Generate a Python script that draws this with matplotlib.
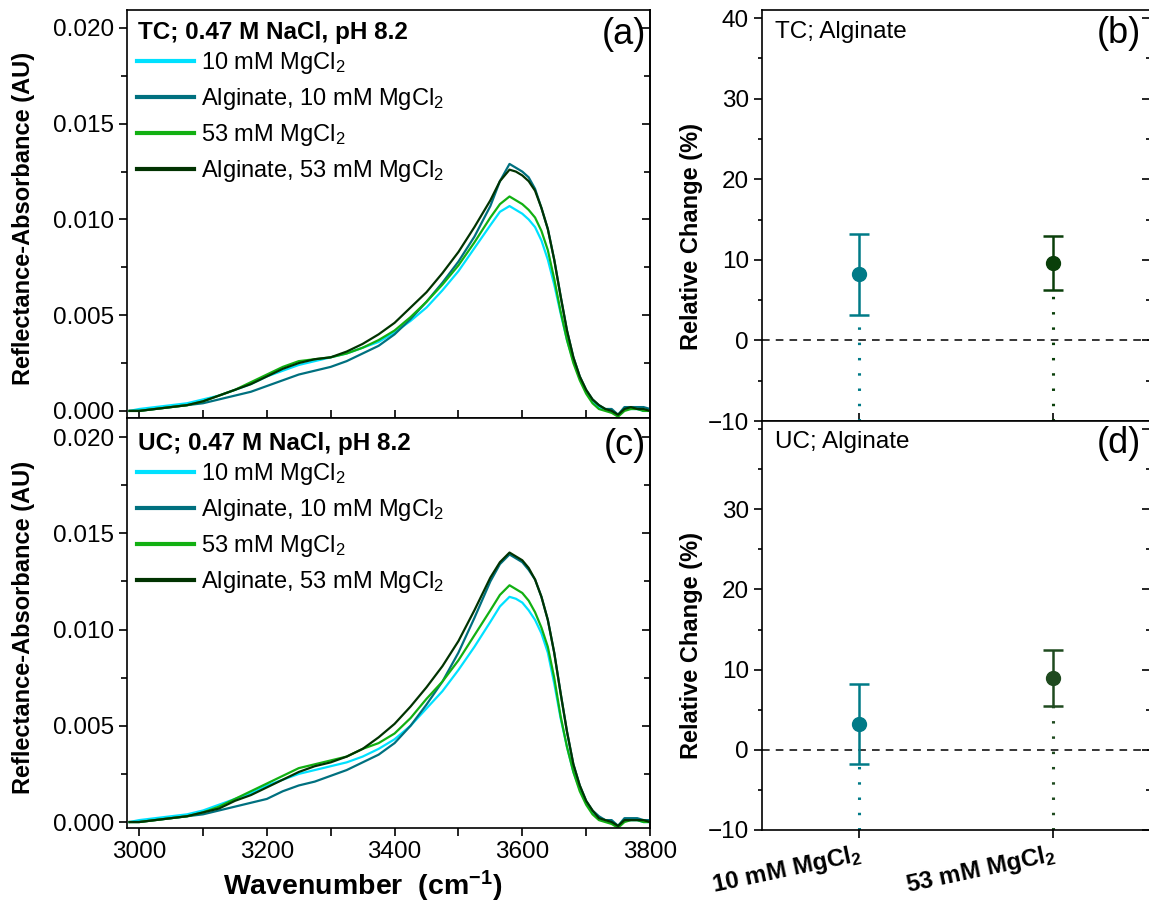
import matplotlib
matplotlib.use("Agg")
import matplotlib.pyplot as plt
from matplotlib.ticker import MultipleLocator

plt.rcParams['font.family'] = ['Liberation Sans', 'DejaVu Sans']
plt.rcParams['mathtext.fontset'] = 'custom'
plt.rcParams['mathtext.rm'] = 'Liberation Sans'
plt.rcParams['mathtext.it'] = 'Liberation Sans'
plt.rcParams['mathtext.bf'] = 'Liberation Sans:bold'

# ---------------- data ----------------
wavenumber = [2985, 3000, 3025, 3050, 3075, 3100, 3125, 3150, 3175, 3200, 3225, 3250, 3275, 3300,
              3325, 3350, 3375, 3400, 3425, 3450, 3475, 3500, 3525, 3550, 3565, 3580, 3590, 3600,
              3610, 3620, 3630, 3640, 3650, 3660, 3670, 3680, 3690, 3700, 3710, 3720, 3730, 3740,
              3750, 3760, 3770, 3780, 3790, 3800]

tc_10 = [0.0000, 0.0001, 0.0002, 0.0003, 0.0004, 0.0006, 0.0008, 0.0011, 0.0014, 0.0018, 0.0021, 0.0024,
         0.0026, 0.0028, 0.0030, 0.0033, 0.0036, 0.0041, 0.0047, 0.0054, 0.0063, 0.0073, 0.0085, 0.0097,
         0.0104, 0.0107, 0.0105, 0.0103, 0.0100, 0.0096, 0.0089, 0.0079, 0.0066, 0.0051, 0.0037, 0.0026,
         0.0017, 0.0010, 0.0005, 0.0002, 0.0001, 0.0000, -0.0002, 0.0001, 0.0001, 0.0001, 0.0000, 0.0000]
tc_alg_10 = [0.0000, 0.0000, 0.0001, 0.0002, 0.0003, 0.0004, 0.0006, 0.0008, 0.0010, 0.0013, 0.0016, 0.0019,
             0.0021, 0.0023, 0.0026, 0.0030, 0.0034, 0.0040, 0.0048, 0.0057, 0.0067, 0.0078, 0.0091, 0.0107,
             0.0120, 0.0129, 0.0127, 0.0125, 0.0122, 0.0116, 0.0106, 0.0095, 0.0079, 0.0060, 0.0042, 0.0028,
             0.0018, 0.0011, 0.0006, 0.0003, 0.0001, 0.0001, -0.0002, 0.0002, 0.0002, 0.0002, 0.0002, 0.0001]
tc_53 = [0.0000, 0.0000, 0.0001, 0.0002, 0.0003, 0.0005, 0.0008, 0.0011, 0.0015, 0.0019, 0.0023, 0.0026,
         0.0027, 0.0028, 0.0030, 0.0033, 0.0037, 0.0042, 0.0049, 0.0057, 0.0066, 0.0076, 0.0088, 0.0101,
         0.0108, 0.0112, 0.0110, 0.0108, 0.0105, 0.0101, 0.0094, 0.0084, 0.0069, 0.0052, 0.0037, 0.0025,
         0.0016, 0.0009, 0.0004, 0.0001, 0.0000, -0.0001, -0.0003, 0.0000, 0.0001, 0.0001, 0.0000, 0.0000]
tc_alg_53 = [0.0000, 0.0000, 0.0001, 0.0002, 0.0003, 0.0005, 0.0008, 0.0011, 0.0014, 0.0018, 0.0022, 0.0025,
             0.0027, 0.0028, 0.0031, 0.0035, 0.0040, 0.0046, 0.0054, 0.0062, 0.0072, 0.0083, 0.0096, 0.0110,
             0.0120, 0.0126, 0.0125, 0.0123, 0.0120, 0.0115, 0.0106, 0.0095, 0.0079, 0.0060, 0.0042, 0.0028,
             0.0018, 0.0011, 0.0006, 0.0003, 0.0001, 0.0000, -0.0002, 0.0001, 0.0002, 0.0001, 0.0001, 0.0000]

uc_10 = [0.0000, 0.0001, 0.0002, 0.0003, 0.0004, 0.0006, 0.0009, 0.0012, 0.0015, 0.0019, 0.0022, 0.0025,
         0.0027, 0.0029, 0.0031, 0.0034, 0.0038, 0.0043, 0.0050, 0.0059, 0.0068, 0.0079, 0.0091, 0.0104,
         0.0112, 0.0117, 0.0116, 0.0114, 0.0110, 0.0105, 0.0098, 0.0088, 0.0072, 0.0054, 0.0039, 0.0026,
         0.0017, 0.0010, 0.0005, 0.0002, 0.0001, 0.0000, -0.0002, 0.0001, 0.0001, 0.0001, 0.0000, 0.0000]
uc_alg_10 = [0.0000, 0.0000, 0.0001, 0.0002, 0.0003, 0.0004, 0.0006, 0.0008, 0.0010, 0.0012, 0.0016, 0.0019,
             0.0021, 0.0024, 0.0027, 0.0031, 0.0035, 0.0041, 0.0050, 0.0061, 0.0073, 0.0088, 0.0106, 0.0125,
             0.0134, 0.0139, 0.0137, 0.0135, 0.0131, 0.0126, 0.0117, 0.0105, 0.0088, 0.0067, 0.0047, 0.0030,
             0.0019, 0.0011, 0.0006, 0.0003, 0.0001, 0.0001, -0.0002, 0.0002, 0.0002, 0.0002, 0.0001, 0.0001]
uc_53 = [0.0000, 0.0000, 0.0001, 0.0002, 0.0003, 0.0005, 0.0008, 0.0012, 0.0016, 0.0020, 0.0024, 0.0028,
         0.0030, 0.0032, 0.0034, 0.0038, 0.0041, 0.0046, 0.0054, 0.0064, 0.0073, 0.0084, 0.0097, 0.0110,
         0.0118, 0.0123, 0.0121, 0.0119, 0.0115, 0.0109, 0.0101, 0.0091, 0.0075, 0.0055, 0.0039, 0.0026,
         0.0016, 0.0009, 0.0004, 0.0001, 0.0000, -0.0001, -0.0003, 0.0000, 0.0001, 0.0001, 0.0000, 0.0000]
uc_alg_53 = [0.0000, 0.0000, 0.0001, 0.0002, 0.0003, 0.0005, 0.0007, 0.0011, 0.0014, 0.0018, 0.0022, 0.0026,
             0.0029, 0.0031, 0.0034, 0.0038, 0.0044, 0.0051, 0.0060, 0.0070, 0.0081, 0.0094, 0.0110, 0.0127,
             0.0135, 0.0140, 0.0138, 0.0136, 0.0132, 0.0126, 0.0117, 0.0105, 0.0088, 0.0067, 0.0047, 0.0030,
             0.0019, 0.0011, 0.0006, 0.0002, 0.0001, 0.0000, -0.0002, 0.0001, 0.0001, 0.0001, 0.0001, 0.0000]

series_labels = [r'10 mM MgCl$_2$', r'Alginate, 10 mM MgCl$_2$', r'53 mM MgCl$_2$', r'Alginate, 53 mM MgCl$_2$']
series_colors = ['#00E1FF', '#00707F', '#12B012', '#013301']

categories = [r'10 mM MgCl$_\mathbf{2}$', r'53 mM MgCl$_\mathbf{2}$']
cat_pos = [1, 2]
tc_change = [8.2, 9.6]
tc_err = [5.0, 3.4]
uc_change = [3.2, 9.0]
uc_err = [5.0, 3.5]
cat_colors = ['#007A87', '#0A3F0A']
cat_colors_uc = ['#007A87', '#1F4A1F']

# ---------------- figure ----------------
W, H = 1149, 909
fig = plt.figure(figsize=(W / 100, H / 100), dpi=100)

def fx(px):
    return px / W

def fy(py):
    return 1 - py / H

ax_a = fig.add_axes([fx(127), fy(418), fx(650 - 127), (418 - 10) / H])
ax_c = fig.add_axes([fx(127), fy(828), fx(650 - 127), (828 - 418) / H])
ax_b = fig.add_axes([fx(762), fy(421), fx(1150 - 762), (421 - 10) / H])
ax_d = fig.add_axes([fx(762), fy(830), fx(1150 - 762), (830 - 421) / H])

FS = 17.5

def style_spec(ax, bottom_dir):
    for s in ax.spines.values():
        s.set_linewidth(1.2)
    ax.set_xlim(2981, 3800)
    ax.xaxis.set_major_locator(MultipleLocator(200))
    ax.xaxis.set_minor_locator(MultipleLocator(100))
    ax.yaxis.set_major_locator(MultipleLocator(0.005))
    ax.yaxis.set_minor_locator(MultipleLocator(0.0025))
    ax.tick_params(axis='y', which='both', direction='out', left=True, right=False, labelsize=FS, width=1.2)
    ax.tick_params(axis='y', which='major', length=6)
    ax.tick_params(axis='y', which='minor', length=4)
    ax.tick_params(axis='x', which='both', direction=bottom_dir, length=6, width=1.2, labelsize=FS, top=False)
    ax.yaxis.set_major_formatter(plt.FuncFormatter(lambda v, p: f'{v:.3f}'))
    sec = ax.secondary_yaxis('right')
    sec.yaxis.set_major_locator(MultipleLocator(0.005))
    sec.yaxis.set_minor_locator(MultipleLocator(0.0025))
    sec.tick_params(axis='y', which='both', direction='in', labelright=False, width=1.2)
    sec.tick_params(axis='y', which='major', length=6)
    sec.tick_params(axis='y', which='minor', length=4)
    sec.spines['right'].set_linewidth(1.2)
    ax.set_ylabel('Reflectance-Absorbance (AU)', fontsize=17, fontweight='bold')
    ax.yaxis.set_label_coords(-0.176, 0.49)

def draw_spec(ax, data, title, panel, ylim, title_y):
    for vals, lab, col in zip(data, series_labels, series_colors):
        ax.plot(wavenumber, vals, color=col, lw=1.6, label=lab)
    ax.set_ylim(*ylim)
    ax.text(0.021, title_y, title, transform=ax.transAxes, fontsize=FS, fontweight='bold',
            ha='left', va='center')
    ax.text(0.992, title_y - 0.005, panel, transform=ax.transAxes, fontsize=26,
            ha='right', va='center')
    leg = ax.legend(loc='upper left', bbox_to_anchor=(0.019, title_y - 0.045), frameon=False,
                    fontsize=17, handlelength=2.4, handletextpad=0.3, labelspacing=0.42,
                    borderpad=0, borderaxespad=0)
    for ln in leg.get_lines():
        ln.set_linewidth(3)

draw_spec(ax_a, [tc_10, tc_alg_10, tc_53, tc_alg_53], 'TC; 0.47 M NaCl, pH 8.2', '(a)',
          (-0.00037, 0.02094), 0.946)
draw_spec(ax_c, [uc_10, uc_alg_10, uc_53, uc_alg_53], 'UC; 0.47 M NaCl, pH 8.2', '(c)',
          (-0.00031, 0.02099), 0.939)
style_spec(ax_a, 'in')
style_spec(ax_c, 'out')
ax_a.tick_params(axis='x', labelbottom=False)
ax_c.set_xlabel(r'Wavenumber  (cm$^{\mathbf{-1}}$)', fontsize=20.5, fontweight='bold')
ax_c.xaxis.set_label_coords(0.45, -0.10)

def style_rel(ax, bottom_dir):
    for s in ax.spines.values():
        s.set_linewidth(1.2)
    ax.set_xlim(0.5, 2.5)
    ax.set_ylim(-10, 41)
    ax.set_xticks(cat_pos)
    ax.yaxis.set_major_locator(MultipleLocator(10))
    ax.yaxis.set_minor_locator(MultipleLocator(5))
    ax.tick_params(axis='y', which='both', direction='out', left=True, right=False, labelsize=FS, width=1.2)
    ax.tick_params(axis='y', which='major', length=6)
    ax.tick_params(axis='y', which='minor', length=3)
    ax.tick_params(axis='x', direction=bottom_dir, length=6, width=1.2, top=False)
    sec = ax.secondary_yaxis('right')
    sec.yaxis.set_major_locator(MultipleLocator(10))
    sec.yaxis.set_minor_locator(MultipleLocator(5))
    sec.tick_params(axis='y', which='both', direction='in', labelright=False, width=1.2)
    sec.tick_params(axis='y', which='major', length=6)
    sec.tick_params(axis='y', which='minor', length=3)
    ax.set_ylabel('Relative Change (%)', fontsize=17, fontweight='bold')
    ax.yaxis.set_label_coords(-0.152, 0.45)

def draw_rel(ax, vals, errs, cols, title, panel, title_y):
    ax.axhline(0, color='black', lw=1.1, ls=(0, (5, 4)), zorder=1)
    for x, v, e, c in zip(cat_pos, vals, errs, cols):
        ax.vlines(x, -10, v - e, colors=c, lw=2.2, linestyles=(0, (0.8, 4.2)), zorder=2)
        ax.errorbar([x], [v], yerr=[e], fmt='o', color=c, ms=10, elinewidth=1.8,
                    capsize=7, capthick=1.8, zorder=3)
    ax.text(0.034, title_y, title, transform=ax.transAxes, fontsize=FS, ha='left', va='center')
    ax.text(0.977, title_y - 0.003, panel, transform=ax.transAxes, fontsize=26, ha='right', va='center')

draw_rel(ax_b, tc_change, tc_err, cat_colors, 'TC; Alginate', '(b)', 0.946)
draw_rel(ax_d, uc_change, uc_err, cat_colors_uc, 'UC; Alginate', '(d)', 0.949)
style_rel(ax_b, 'in')
style_rel(ax_d, 'out')
ax_b.set_xticklabels([])
ax_d.set_yticks([-10, 0, 10, 20, 30])
ax_d.set_xticklabels(categories, fontsize=17.5, fontweight='bold', rotation=12,
                     ha='right', rotation_mode='anchor')
ax_d.tick_params(axis='x', pad=2)

fig.savefig('out.png', dpi=100)
